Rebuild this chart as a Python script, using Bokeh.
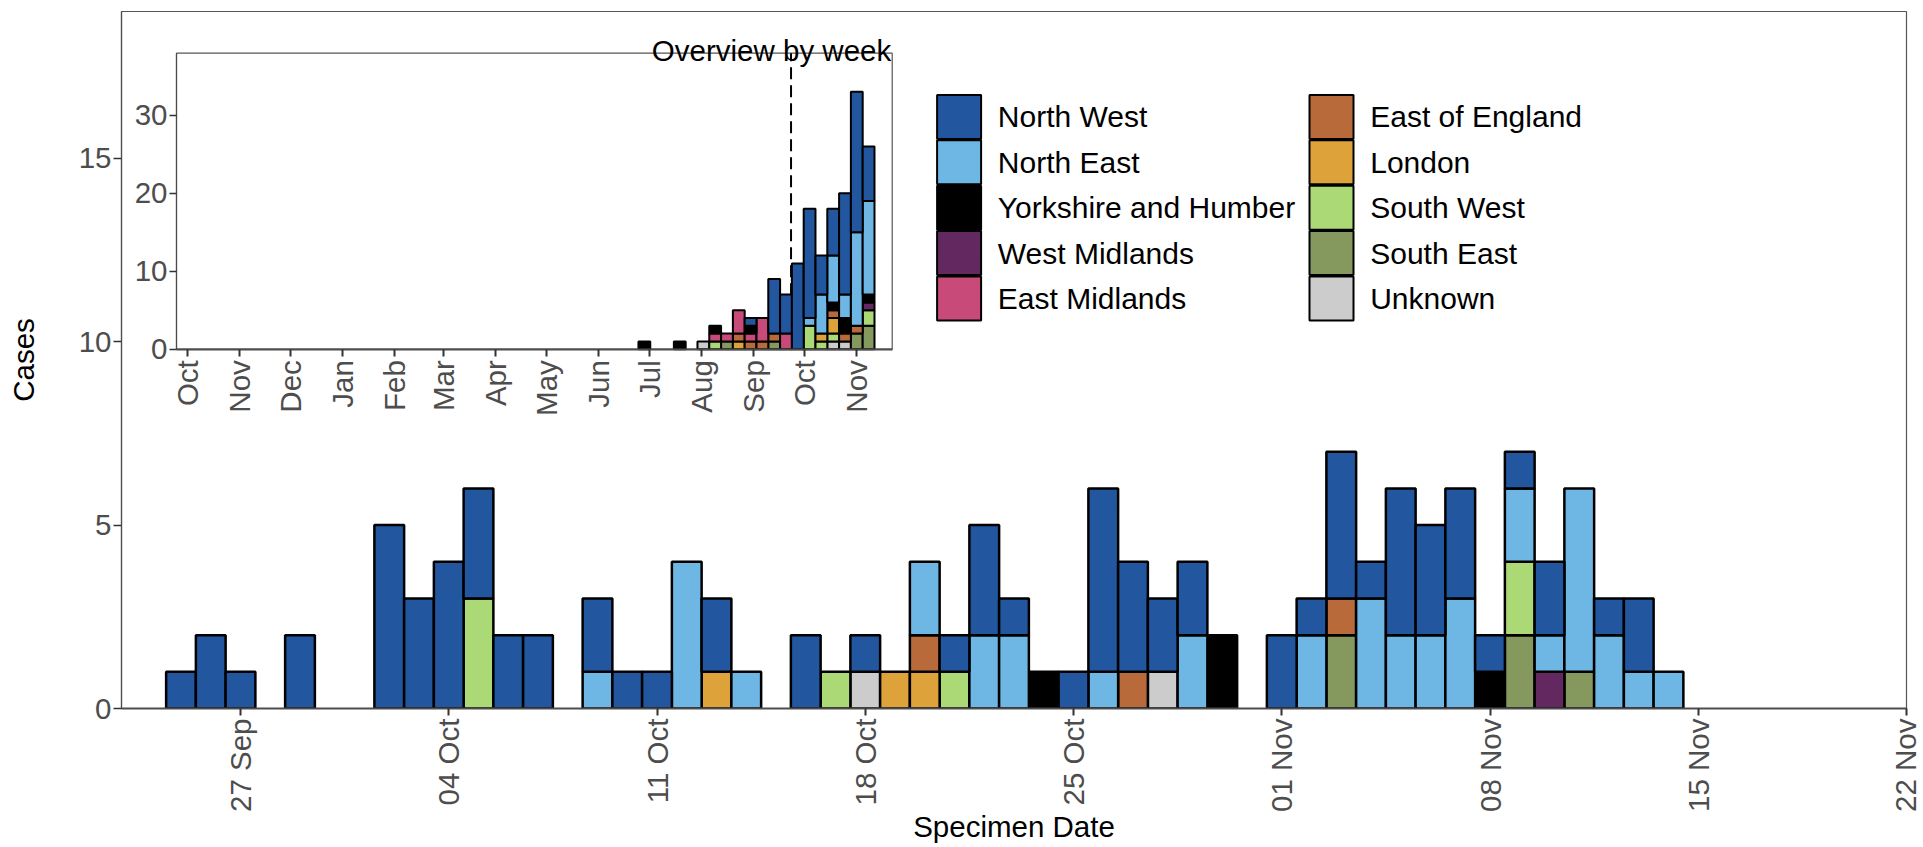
import numpy as np
import pandas as pd
from math import pi
from bokeh.plotting import figure
from bokeh.core.properties import value
from bokeh.models import (Range1d, FixedTicker, DatetimeTickFormatter, LinearAxis,
                          DatetimeAxis, Label, ColumnDataSource)
from bokeh.embed import file_html
from bokeh.resources import INLINE

# ---------------- data ----------------
regions = ["North West", "North East", "Yorkshire and Humber", "West Midlands",
           "East Midlands", "East of England", "London", "South West", "South East", "Unknown"]
region_colors = ["#22579F", "#6EB6E3", "#000000", "#62285F", "#C84A78",
                 "#B86A3B", "#DDA23A", "#AAD975", "#85995F", "#CCCCCC"]

# daily counts by specimen date, 25 Sep 2020 .. 14 Nov 2020
daily_dates = pd.date_range("2020-09-25", "2020-11-14", freq="D")
#            Sep25-Oct01         Oct02-08            Oct09-15            Oct16-22            Oct23-29            Oct30-Nov05         Nov06-12            Nov13-14
nw_daily = [1, 2, 1, 0, 2, 0, 0, 5, 3, 4, 3, 2, 2, 0, 2, 1, 1, 0, 2, 0, 0, 2, 0, 1, 0, 0, 1, 3, 1, 0, 1, 5, 3, 2, 2, 0, 0, 2, 1, 4, 1, 4, 3, 3, 1, 1, 2, 0, 1, 2, 0]
ne_daily = [0, 0, 0, 0, 0, 0, 0, 0, 0, 0, 0, 0, 0, 0, 1, 0, 0, 4, 0, 1, 0, 0, 0, 0, 0, 2, 0, 2, 2, 0, 0, 1, 0, 0, 2, 0, 0, 0, 2, 0, 3, 2, 2, 3, 0, 2, 1, 5, 2, 1, 1]
yh_daily = [0, 0, 0, 0, 0, 0, 0, 0, 0, 0, 0, 0, 0, 0, 0, 0, 0, 0, 0, 0, 0, 0, 0, 0, 0, 0, 0, 0, 0, 1, 0, 0, 0, 0, 0, 2, 0, 0, 0, 0, 0, 0, 0, 0, 1, 0, 0, 0, 0, 0, 0]
wm_daily = [0, 0, 0, 0, 0, 0, 0, 0, 0, 0, 0, 0, 0, 0, 0, 0, 0, 0, 0, 0, 0, 0, 0, 0, 0, 0, 0, 0, 0, 0, 0, 0, 0, 0, 0, 0, 0, 0, 0, 0, 0, 0, 0, 0, 0, 0, 1, 0, 0, 0, 0]
em_daily = [0, 0, 0, 0, 0, 0, 0, 0, 0, 0, 0, 0, 0, 0, 0, 0, 0, 0, 0, 0, 0, 0, 0, 0, 0, 0, 0, 0, 0, 0, 0, 0, 0, 0, 0, 0, 0, 0, 0, 0, 0, 0, 0, 0, 0, 0, 0, 0, 0, 0, 0]
ee_daily = [0, 0, 0, 0, 0, 0, 0, 0, 0, 0, 0, 0, 0, 0, 0, 0, 0, 0, 0, 0, 0, 0, 0, 0, 0, 1, 0, 0, 0, 0, 0, 0, 1, 0, 0, 0, 0, 0, 0, 1, 0, 0, 0, 0, 0, 0, 0, 0, 0, 0, 0]
ld_daily = [0, 0, 0, 0, 0, 0, 0, 0, 0, 0, 0, 0, 0, 0, 0, 0, 0, 0, 1, 0, 0, 0, 0, 0, 1, 1, 0, 0, 0, 0, 0, 0, 0, 0, 0, 0, 0, 0, 0, 0, 0, 0, 0, 0, 0, 0, 0, 0, 0, 0, 0]
sw_daily = [0, 0, 0, 0, 0, 0, 0, 0, 0, 0, 3, 0, 0, 0, 0, 0, 0, 0, 0, 0, 0, 0, 1, 0, 0, 0, 1, 0, 0, 0, 0, 0, 0, 0, 0, 0, 0, 0, 0, 0, 0, 0, 0, 0, 0, 2, 0, 0, 0, 0, 0]
se_daily = [0, 0, 0, 0, 0, 0, 0, 0, 0, 0, 0, 0, 0, 0, 0, 0, 0, 0, 0, 0, 0, 0, 0, 0, 0, 0, 0, 0, 0, 0, 0, 0, 0, 0, 0, 0, 0, 0, 0, 2, 0, 0, 0, 0, 0, 2, 0, 1, 0, 0, 0]
uk_daily = [0, 0, 0, 0, 0, 0, 0, 0, 0, 0, 0, 0, 0, 0, 0, 0, 0, 0, 0, 0, 0, 0, 0, 1, 0, 0, 0, 0, 0, 0, 0, 0, 0, 1, 0, 0, 0, 0, 0, 0, 0, 0, 0, 0, 0, 0, 0, 0, 0, 0, 0]

# weekly counts (week starting Sunday) for the overview inset
weekly_dates = pd.to_datetime(["2020-06-28", "2020-07-19", "2020-08-02", "2020-08-09", "2020-08-16",
                               "2020-08-23", "2020-08-30", "2020-09-06", "2020-09-13", "2020-09-20",
                               "2020-09-27", "2020-10-04", "2020-10-11", "2020-10-18", "2020-10-25",
                               "2020-11-01", "2020-11-08"])
nw_weekly = [0, 0, 0, 0, 0, 0, 1, 0, 7, 5, 11, 14, 5, 6, 13, 18, 7]
ne_weekly = [0, 0, 0, 0, 0, 0, 0, 0, 0, 0, 0, 1, 5, 6, 3, 12, 12]
yh_weekly = [1, 1, 0, 1, 0, 0, 1, 0, 0, 0, 0, 0, 0, 1, 2, 0, 1]
wm_weekly = [0, 0, 0, 0, 0, 0, 0, 0, 0, 0, 0, 0, 0, 0, 0, 0, 1]
em_weekly = [0, 0, 0, 1, 1, 3, 1, 3, 0, 2, 0, 0, 0, 0, 0, 0, 0]
ee_weekly = [0, 0, 0, 0, 0, 1, 1, 1, 1, 0, 0, 0, 0, 1, 1, 1, 0]
ld_weekly = [0, 0, 0, 0, 0, 1, 0, 0, 0, 0, 0, 0, 1, 2, 0, 0, 0]
sw_weekly = [0, 0, 0, 1, 0, 0, 0, 0, 0, 0, 0, 3, 1, 1, 0, 0, 2]
se_weekly = [0, 0, 0, 0, 1, 0, 0, 0, 1, 0, 0, 0, 0, 0, 0, 2, 3]
uk_weekly = [0, 0, 1, 0, 0, 0, 0, 0, 0, 0, 0, 0, 0, 1, 1, 0, 0]

# ticks
main_x_ticks = pd.to_datetime(["2020-09-27", "2020-10-04", "2020-10-11", "2020-10-18", "2020-10-25",
                               "2020-11-01", "2020-11-08", "2020-11-15", "2020-11-22"])
main_y_ticks = [0, 5, 10, 15]
inset_x_ticks = pd.to_datetime(["2019-10-01", "2019-11-01", "2019-12-01", "2020-01-01", "2020-02-01",
                                "2020-03-01", "2020-04-01", "2020-05-01", "2020-06-01", "2020-07-01",
                                "2020-08-01", "2020-09-01", "2020-10-01", "2020-11-01"])
inset_y_ticks = [0, 10, 20, 30]

daily = dict(zip(regions, [nw_daily, ne_daily, yh_daily, wm_daily, em_daily,
                           ee_daily, ld_daily, sw_daily, se_daily, uk_daily]))
weekly = dict(zip(regions, [nw_weekly, ne_weekly, yh_weekly, wm_weekly, em_weekly,
                            ee_weekly, ld_weekly, sw_weekly, se_weekly, uk_weekly]))
color_of = dict(zip(regions, region_colors))

# ---------------- layout ----------------
FONT = "Liberation Sans"
FS = "29.5px"
LEG_FS = "30px"
TICK_TXT = "#4D4D4D"
AX_COL = "#4D4D4D"

FIG_W, FIG_H = 1921, 846
FRAME_L, FRAME_T, FRAME_R, FRAME_B = 121, 11, 1906, 708
FRAME_W = FRAME_R - FRAME_L
FRAME_H = FRAME_B - FRAME_T

main_x0, main_x1 = pd.Timestamp("2020-09-23"), pd.Timestamp("2020-11-22")
main_y1 = 19

# inset panel, pixel box relative to the frame (left/right from frame left, top/bottom from frame top)
IN_L, IN_R, IN_T, IN_B = 55.0, 770.7, 41.7, 337.7
inset_x0, inset_x1 = pd.Timestamp("2019-09-24 12:00"), pd.Timestamp("2020-11-22")
inset_y1 = 37.95


def ms(t):
    return pd.Timestamp(t).value / 1e6


kx = (ms(inset_x1) - ms(inset_x0)) / (IN_R - IN_L)
ix_range = Range1d(start=ms(inset_x0) - IN_L * kx, end=ms(inset_x1) + (FRAME_W - IN_R) * kx)
ky = inset_y1 / (IN_B - IN_T)
iy_range = Range1d(start=-(FRAME_H - IN_B) * ky, end=inset_y1 + IN_T * ky)

p = figure(width=FIG_W, height=FIG_H, x_axis_type="datetime",
           x_range=Range1d(start=main_x0, end=main_x1), y_range=Range1d(start=0, end=main_y1),
           output_backend="svg", toolbar_location=None,
           min_border_left=FRAME_L, min_border_top=FRAME_T,
           min_border_right=FIG_W - FRAME_R, min_border_bottom=FIG_H - FRAME_B)
# inset coordinates, and a page-pixel coordinate system for the legend block
p.extra_x_ranges = {"ix": ix_range, "px": Range1d(start=FRAME_L, end=FRAME_R)}
p.extra_y_ranges = {"iy": iy_range, "py": Range1d(start=FRAME_B, end=FRAME_T)}
p.xgrid.grid_line_color = None
p.ygrid.grid_line_color = None
p.background_fill_color = "white"
p.border_fill_color = "white"
p.outline_line_color = "#555555"
p.outline_line_width = 1.2

DAY = 86400000.0


def draw_stack(x, data, width, lw, **rng):
    x = np.asarray(x)
    base = np.zeros(len(x))
    rends = {}
    for reg in regions[::-1]:       # first level is drawn on top
        v = np.asarray(data[reg], dtype=float)
        m = v > 0
        src = ColumnDataSource(dict(x=x[m], bottom=base[m], top=(base + v)[m]))
        rends[reg] = p.vbar(x="x", width=width, bottom="bottom", top="top", source=src,
                            fill_color=color_of[reg], line_color="black", line_width=lw, **rng)
        base = base + v
    return rends


# ----- inset -----
p.quad(left=[ms(inset_x0)], right=[ms(inset_x1)], bottom=[0], top=[inset_y1],
       x_range_name="ix", y_range_name="iy",
       fill_color="white", line_color="#555555", line_width=1.2)
p.segment(x0=[ms(main_x0)], y0=[0], x1=[ms(main_x0)], y1=[inset_y1],
          x_range_name="ix", y_range_name="iy",
          line_color="black", line_width=2, line_dash="12 6")
inset_rends = draw_stack(weekly_dates.values.astype("datetime64[ms]").astype(float), weekly,
                         7 * DAY, 2, x_range_name="ix", y_range_name="iy")

# ----- main bars -----
main_rends = draw_stack(daily_dates, daily, DAY, 2.5)

# ----- main axes -----
fmt_day = DatetimeTickFormatter(days="%d %b", months="%d %b", years="%d %b", hours="%d %b",
                                hourmin="%d %b", minutes="%d %b", minsec="%d %b", seconds="%d %b")
xa = p.xaxis[0]
xa.ticker = FixedTicker(ticks=[ms(t) for t in main_x_ticks])
xa.formatter = fmt_day
ya = p.yaxis[0]
ya.ticker = FixedTicker(ticks=main_y_ticks)

for ax in (xa, ya):
    ax.major_label_text_font = FONT
    ax.major_label_text_font_size = FS
    ax.major_label_text_color = TICK_TXT
    ax.axis_label_text_font = FONT
    ax.axis_label_text_font_size = FS
    ax.axis_label_text_font_style = "normal"
    ax.axis_label_text_color = "black"
    ax.axis_line_color = AX_COL
    ax.major_tick_line_color = "#333333"
    ax.major_tick_in = 0
    ax.minor_tick_line_color = None

xa.axis_label = "Specimen Date"
xa.major_label_orientation = pi / 2
xa.major_tick_out = 7
xa.major_tick_line_width = 2
xa.axis_line_width = 2
xa.major_label_standoff = 3
xa.axis_label_standoff = -5

ya.axis_label = "Cases"
ya.major_tick_out = 8
ya.major_tick_line_width = 1.5
ya.axis_line_width = 1.2
ya.major_label_standoff = 2
ya.axis_label_standoff = 36

# ----- inset axes (fixed inside the frame) -----
fmt_mon = DatetimeTickFormatter(days="%b", months="%b", years="%b", hours="%b",
                                hourmin="%b", minutes="%b", minsec="%b", seconds="%b")
iax = DatetimeAxis(x_range_name="ix", y_range_name="iy", fixed_location=0,
                   ticker=FixedTicker(ticks=[ms(t) for t in inset_x_ticks]), formatter=fmt_mon,
                   bounds=(ms(inset_x0), ms(inset_x1)))
iay = LinearAxis(x_range_name="ix", y_range_name="iy", fixed_location=ms(inset_x0),
                 ticker=FixedTicker(ticks=inset_y_ticks), bounds=(0, inset_y1))
for ax in (iax, iay):
    ax.major_label_text_font = FONT
    ax.major_label_text_font_size = FS
    ax.major_label_text_color = TICK_TXT
    ax.axis_line_color = AX_COL
    ax.major_tick_line_color = "#333333"
    ax.major_tick_in = 0
    ax.minor_tick_line_color = None
iax.major_label_orientation = pi / 2
iax.major_tick_out = 7
iax.major_tick_line_width = 2
iax.axis_line_width = 2
iax.major_label_standoff = 4
iay.major_tick_out = 7
iay.major_tick_line_width = 1.5
iay.axis_line_width = 1.2
iay.major_label_standoff = 2
p.add_layout(iax, "below")
p.add_layout(iay, "left")

p.add_layout(Label(x=ms(inset_x1), y=inset_y1, x_range_name="ix", y_range_name="iy",
                   text="Overview by week", text_align="right", text_baseline="alphabetic",
                   y_offset=3, x_offset=-1, text_font=FONT, text_font_size=FS, text_color="black"))

# ----- legend: two columns of five keys (drawn in page pixels) -----
LEG_COL_X = [936.6, 1309.0]     # left edge of key column
LEG_TOP, LEG_ROW, KEY_W, KEY_H, TXT_DX = 94.4, 45.4, 44.0, 44.0, 60.7
idx = np.arange(len(regions))
kl = np.array(LEG_COL_X)[idx // 5]
kt = LEG_TOP + (idx % 5) * LEG_ROW
leg_src = ColumnDataSource(dict(left=kl, right=kl + KEY_W, top=kt, bottom=kt + KEY_H,
                                tx=kl + TXT_DX, ty=kt + KEY_H / 2,
                                label=regions, color=region_colors))
p.quad(left="left", right="right", top="top", bottom="bottom", source=leg_src,
       x_range_name="px", y_range_name="py",
       fill_color="color", line_color="black", line_width=2)
p.text(x="tx", y="ty", text="label", source=leg_src, x_range_name="px", y_range_name="py",
       text_font=value(FONT), text_font_size=value(LEG_FS), text_color="black",
       text_align="left", text_baseline="middle")

open("out.html", "w").write(file_html(p, INLINE, title="cases"))
